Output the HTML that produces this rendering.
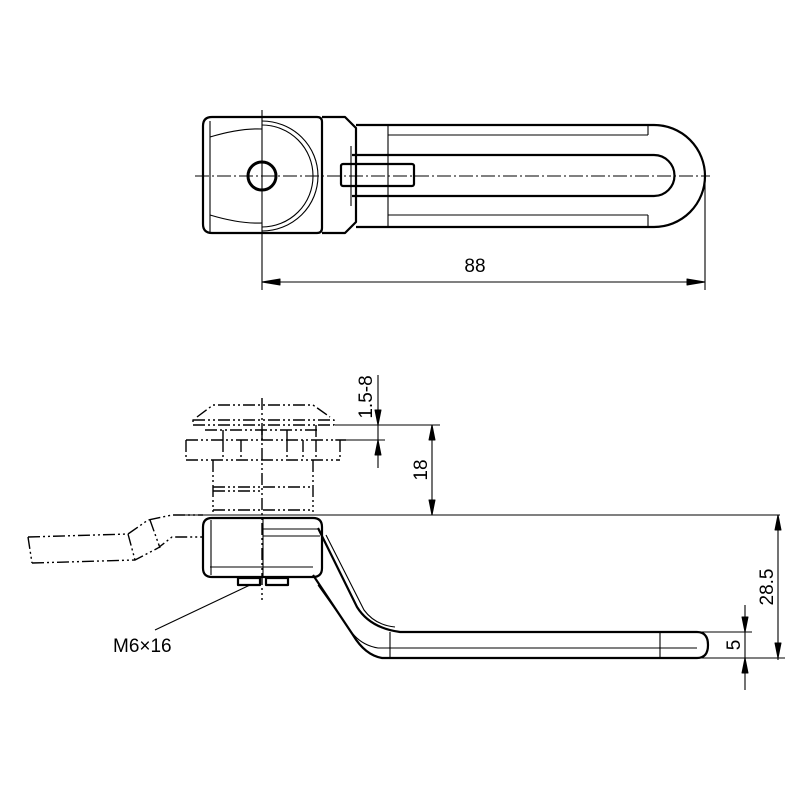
<!DOCTYPE html>
<html><head><meta charset="utf-8"><style>html,body{margin:0;padding:0;background:#fff}svg{display:block}</style></head>
<body>
<svg width="800" height="800" viewBox="0 0 800 800" xmlns="http://www.w3.org/2000/svg" font-family="Liberation Sans, sans-serif">
<g fill="none" stroke="#000" stroke-linejoin="round">
<g stroke-width="2.2">
<path d="M212,117 L317,117 Q322,117 322,122 L322,228 Q322,233 317,233 L212,233 Q203,233 203,224 L203,126 Q203,117 212,117 Z"/>
<path d="M322,117 L345,117 L356,128 L356,222 L345,233 L322,233"/>
<path d="M356,125 L654,125 A51,51 0 0 1 654,227 L356,227"/>
<path d="M352,155 L654,155 A20.5,20.5 0 0 1 654,196 L352,196"/>
<rect x="341" y="164" width="73" height="22" rx="2"/>
<circle cx="262" cy="176" r="14" stroke-width="3"/>
</g>
<g stroke-width="1.1">
<path d="M262,121 A56,55 0 0 1 262,231"/>
<path d="M262,125 A51,51 0 0 1 262,227"/>
<path d="M210,137 Q240,128 262,129"/><path d="M210,215 Q240,224 262,223"/>
<path d="M388,125 L388,227"/><path d="M388,135 L648,135"/><path d="M388,215 L648,215"/>
<path d="M648,125 L648,135"/><path d="M648,215 L648,227"/>
<path d="M351,146 L351,206"/>
<path d="M210,121 L210,232"/>
<path d="M262,110 L262,290"/><path d="M705,176 L705,290"/>
<path d="M195,176 L710,176" stroke-dasharray="14,3,2,3"/>
<path d="M262,282 L705,282"/>
</g>
<path d="M262,282 L280,279 L280,285 Z M705,282 L687,279 L687,285 Z" fill="#000"/>
<g stroke-width="1.4" stroke-dasharray="12,3,2,3,2,3">
<path d="M197,417 L213,405 L313,405 L330,417"/>
<path d="M193,420 L334,420 L334,425 L193,425 Z"/>
<path d="M205,430 L320,430 M223,430 L223,440 M262,430 L262,440 M287,430 L287,440 M316,425 L316,440"/>
<path d="M186,440 L346,440 M186,460 L340,460 M186,440 L186,460 M340,440 L340,460"/>
<path d="M223,440 L223,460 M241,440 L241,460 M287,440 L287,460 M303,440 L303,460 M316,440 L316,460"/>
<path d="M213,460 L213,512 M313,460 L313,512 M213,487 L313,487 M213,491 L262,491"/>
<path d="M213,510 L313,510"/>
<path d="M262,398 L262,600"/>
<path d="M28,537 L128,534 L148,520 L172,515 L203,515 M32,563 L135,560 L158,548 L172,537 L203,537 M28,537 L32,563 M128,534 L135,560 M150,520 L160,548"/>
</g>
<g stroke-width="2.2">
<path d="M175,515 L780,515" stroke-width="1.1"/>
<path d="M212,518 L313,518 Q322,518 322,527 L322,568 Q322,577 313,577 L212,577 Q203,577 203,568 L203,527 Q203,518 212,518 Z"/>
<path d="M318,528 L357,607 Q370,628 400,632 L697,632 Q708,632 708,645 Q708,658 697,658 L382,658 Q365,655 353,635 L313,575"/>
<rect x="238" y="578" width="22" height="7"/><rect x="266" y="578" width="22" height="7"/>
</g>
<g stroke-width="1.1">
<path d="M263,529 L318,529 M263,536 L320,536 M263,518 L263,577 M210,567 L313,567 M211,520 L211,575"/>
<path d="M326,535 L364,610 Q375,625 395,627"/>
<path d="M318,585 L350,630 Q360,645 378,648 L697,648"/>
<path d="M390,632 L390,658 M660,632 L660,658"/>
<path d="M250,585 L155,630"/>
<path d="M335,425 L440,425 M335,440 L385,440 M378,375 L378,468 M432,425 L432,515"/>
<path d="M700,632 L752,632 M700,658 L785,658 M745,605 L745,690 M778,515 L778,660"/>
</g>
<path d="M378,425 L375,410 L381,410 Z M378,440 L375,455 L381,455 Z M432,425 L429,440 L435,440 Z M432,515 L429,500 L435,500 Z M745,632 L742,617 L748,617 Z M745,658 L742,673 L748,673 Z M778,515 L775,530 L781,530 Z M778,658 L775,643 L781,643 Z" fill="#000"/>
</g>
<g font-size="19" fill="#000">
<text x="475" y="272" text-anchor="middle">88</text>
<text x="113" y="652">M6×16</text>
<text transform="translate(372,397) rotate(-90)" text-anchor="middle">1.5-8</text>
<text transform="translate(427,470) rotate(-90)" text-anchor="middle">18</text>
<text transform="translate(773,587) rotate(-90)" text-anchor="middle">28.5</text>
<text transform="translate(740,645) rotate(-90)" text-anchor="middle">5</text>
</g>
</svg>
</body></html>
